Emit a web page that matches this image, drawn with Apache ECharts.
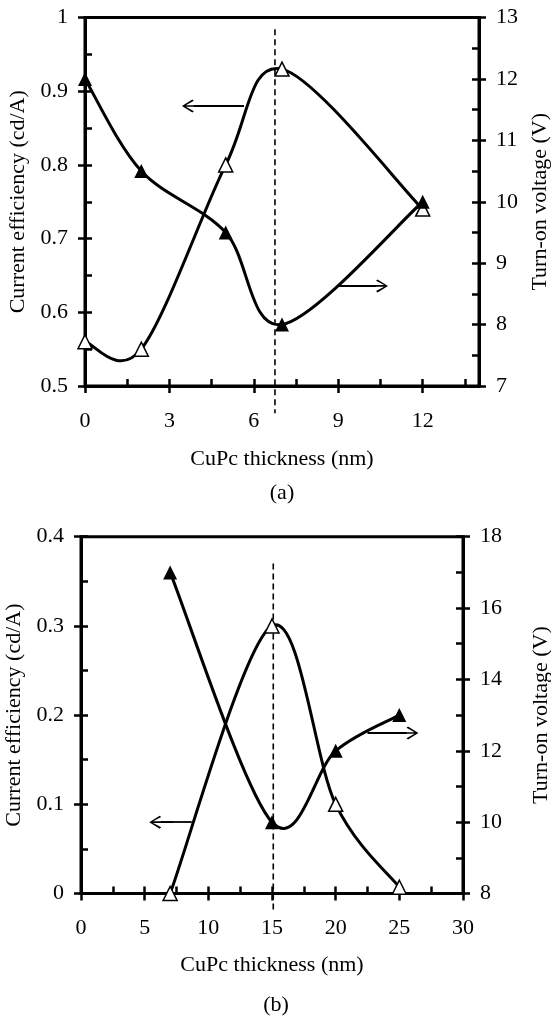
<!DOCTYPE html>
<html>
<head>
<meta charset="utf-8">
<script src="https://cdn.jsdelivr.net/npm/echarts@6/dist/echarts.min.js"></script>
<style>
html,body{margin:0;padding:0;background:#fff;}
#chart{width:551px;height:1018px;}
</style>
</head>
<body>
<div id="chart"></div>
<script>
// ---------- data (a) ----------
const thicknessA = [0, 2, 5, 7, 12];
const efficiencyA = [0.56, 0.55, 0.80, 0.93, 0.74];
const voltageA = [12, 10.5, 9.5, 8, 10];
// ---------- data (b) ----------
const thicknessB = [7, 15, 20, 25];
const efficiencyB = [0, 0.30, 0.10, 0.007];
const voltageB = [17, 10, 12, 13];

// axis ranges / tick steps
const xRangeA = [0, 14], xMajorA = 3, xMinorA = 1.5;
const yLeftA = [0.5, 1], yLeftMajorA = 0.1, yLeftMinorA = 0.05;
const yRightA = [7, 13], yRightMajorA = 1, yRightMinorA = 0.5;
const xRangeB = [0, 30], xMajorB = 5, xMinorB = 2.5;
const yLeftB = [0, 0.4], yLeftMajorB = 0.1, yLeftMinorB = 0.05;
const yRightB = [8, 18], yRightMajorB = 2, yRightMinorB = 1;

// annotations (data coordinates)
const dashA = [[6.75, 0.984], [6.75, 0.463]];
const dashB = [[15.1, 0.37], [15.1, -0.022]];
const arrowEffA = [[5.65, 0.88], [3.86, 0.88]];
const arrowVoltA = [[9.03, 8.63], [10.35, 8.63]];
const arrowEffB = [[8.7, 0.08], [6.28, 0.08]];
const arrowVoltB = [[22.5, 12.5], [25.58, 12.5]];

const FONT = 'Liberation Serif';
const FS = 22;
const AXW = 3;
const TICKW = 2.5;
const TICKL = 7;

function xAxes(grid, range, major, minor, gap) {
  return [
    { type: 'value', gridIndex: grid, min: range[0], max: range[1], interval: minor, position: 'bottom',
      axisLine: { show: true, lineStyle: { color: '#000', width: AXW } },
      axisTick: { show: true, inside: true, length: TICKL, lineStyle: { color: '#000', width: TICKW } },
      axisLabel: { show: false }, splitLine: { show: false } },
    { type: 'value', gridIndex: grid, min: range[0], max: range[1], interval: major, position: 'bottom',
      axisLine: { show: false },
      axisTick: { show: true, inside: false, length: TICKL, lineStyle: { color: '#000', width: TICKW } },
      axisLabel: { show: true, margin: 24, fontSize: FS, color: '#000', fontFamily: FONT,
        showMaxLabel: range[1] % major === 0 },
      splitLine: { show: false },
      name: 'CuPc thickness (nm)', nameLocation: 'middle', nameGap: gap,
      nameTextStyle: { fontSize: FS, color: '#000', fontFamily: FONT } }
  ];
}
function yAxes(grid, pos, range, major, minor, name, gap) {
  return [
    { type: 'value', gridIndex: grid, position: pos, min: range[0], max: range[1], interval: minor,
      axisLine: { show: true, lineStyle: { color: '#000', width: AXW } },
      axisTick: { show: true, inside: true, length: TICKL, lineStyle: { color: '#000', width: TICKW } },
      axisLabel: { show: false }, splitLine: { show: false } },
    { type: 'value', gridIndex: grid, position: pos, min: range[0], max: range[1], interval: major,
      axisLine: { show: false },
      axisTick: { show: true, inside: false, length: TICKL, lineStyle: { color: '#000', width: TICKW } },
      axisLabel: { show: true, margin: 17, fontSize: FS, color: '#000', fontFamily: FONT },
      splitLine: { show: false },
      name: name, nameLocation: 'middle', nameRotate: 90, nameGap: gap,
      nameTextStyle: { fontSize: FS, color: '#000', fontFamily: FONT } }
  ];
}

const arrowPath = 'path://M5,0 L10,8 L9,9.2 L5.6,3 L5.6,18 L4.4,18 L4.4,3 L1,9.2 L0,8 Z';
function arrowLine(pts) {
  return {
    silent: true,
    symbol: ['none', arrowPath],
    symbolSize: [13, 23.4],
    label: { show: false },
    lineStyle: { type: 'solid', color: '#000', width: 1.8 },
    emphasis: { disabled: true },
    data: [[{ coord: pts[0] }, { coord: pts[1] }]]
  };
}

// smooth curve (Catmull-Rom style bezier segments) through the data points, via the axes' scales
function curve(xs, ys, xi, yi) {
  return {
    type: 'custom', coordinateSystem: 'cartesian2d', xAxisIndex: xi, yAxisIndex: yi,
    data: xs.map((x, i) => [x, ys[i]]),
    encode: { x: 0, y: 1 }, silent: true, z: 3,
    renderItem: function (params, api) {
      const n = xs.length;
      const i = params.dataIndex;
      if (i >= n - 1) return { type: 'group', children: [] };
      const P = k => api.coord([xs[Math.max(0, Math.min(n - 1, k))], ys[Math.max(0, Math.min(n - 1, k))]]);
      const p0 = P(i - 1), p1 = P(i), p2 = P(i + 1), p3 = P(i + 2);
      const t = 1 / 6;
      return {
        type: 'bezierCurve',
        shape: {
          x1: p1[0], y1: p1[1], x2: p2[0], y2: p2[1],
          cpx1: p1[0] + (p2[0] - p0[0]) * t, cpy1: p1[1] + (p2[1] - p0[1]) * t,
          cpx2: p2[0] - (p3[0] - p1[0]) * t, cpy2: p2[1] - (p3[1] - p1[1]) * t
        },
        style: { stroke: '#000', lineWidth: 3, fill: null }
      };
    }
  };
}
function markers(xs, ys, xi, yi, filled, arrow) {
  return {
    type: 'scatter', xAxisIndex: xi, yAxisIndex: yi,
    data: xs.map((x, i) => [x, ys[i]]),
    clip: false, z: 4,
    symbol: 'triangle', symbolSize: 14,
    itemStyle: { color: filled ? '#000' : '#fff', borderColor: '#000', borderWidth: filled ? 0 : 1.5, opacity: 1 },
    emphasis: { disabled: true },
    markLine: arrowLine(arrow)
  };
}
function dashed(pts, xi, yi) {
  return {
    type: 'line', xAxisIndex: xi, yAxisIndex: yi, data: pts, clip: false,
    showSymbol: false, symbol: 'none', z: 2,
    lineStyle: { color: '#000', width: 1.6, type: [6, 4] },
    emphasis: { disabled: true }, silent: true
  };
}

const chart = echarts.init(document.getElementById('chart'), null, { renderer: 'canvas' });
chart.setOption({
  animation: false,
  backgroundColor: '#fff',
  textStyle: { fontFamily: FONT, color: '#000' },
  title: [
    { text: '(a)', left: 282, top: 482, textAlign: 'center', padding: 0,
      textStyle: { fontFamily: FONT, fontSize: FS, fontWeight: 'normal', color: '#000' } },
    { text: '(b)', left: 276, top: 994, textAlign: 'center', padding: 0,
      textStyle: { fontFamily: FONT, fontSize: FS, fontWeight: 'normal', color: '#000' } }
  ],
  grid: [
    { left: 85, right: 72, top: 17.5, height: 368.5, show: true, borderWidth: AXW, borderColor: '#000',
      backgroundColor: 'transparent', containLabel: false, outerBoundsMode: 'none' },
    { left: 81, right: 88, top: 536.7, height: 356.8, show: true, borderWidth: AXW, borderColor: '#000',
      backgroundColor: 'transparent', containLabel: false, outerBoundsMode: 'none' }
  ],
  xAxis: [
    ...xAxes(0, xRangeA, xMajorA, xMinorA, 62),
    ...xAxes(1, xRangeB, xMajorB, xMinorB, 61)
  ],
  yAxis: [
    ...yAxes(0, 'left', yLeftA, yLeftMajorA, yLeftMinorA, 'Current efficiency (cd/A)', 52),
    ...yAxes(0, 'right', yRightA, yRightMajorA, yRightMinorA, 'Turn-on voltage (V)', 50),
    ...yAxes(1, 'left', yLeftB, yLeftMajorB, yLeftMinorB, 'Current efficiency (cd/A)', 50),
    ...yAxes(1, 'right', yRightB, yRightMajorB, yRightMinorB, 'Turn-on voltage (V)', 67)
  ],
  series: [
    dashed(dashA, 0, 0),
    curve(thicknessA, efficiencyA, 0, 0),
    curve(thicknessA, voltageA, 0, 2),
    markers(thicknessA, efficiencyA, 0, 0, false, arrowEffA),
    markers(thicknessA, voltageA, 0, 2, true, arrowVoltA),
    dashed(dashB, 2, 4),
    curve(thicknessB, efficiencyB, 2, 4),
    curve(thicknessB, voltageB, 2, 6),
    markers(thicknessB, efficiencyB, 2, 4, false, arrowEffB),
    markers(thicknessB, voltageB, 2, 6, true, arrowVoltB)
  ]
});
</script>
</body>
</html>
